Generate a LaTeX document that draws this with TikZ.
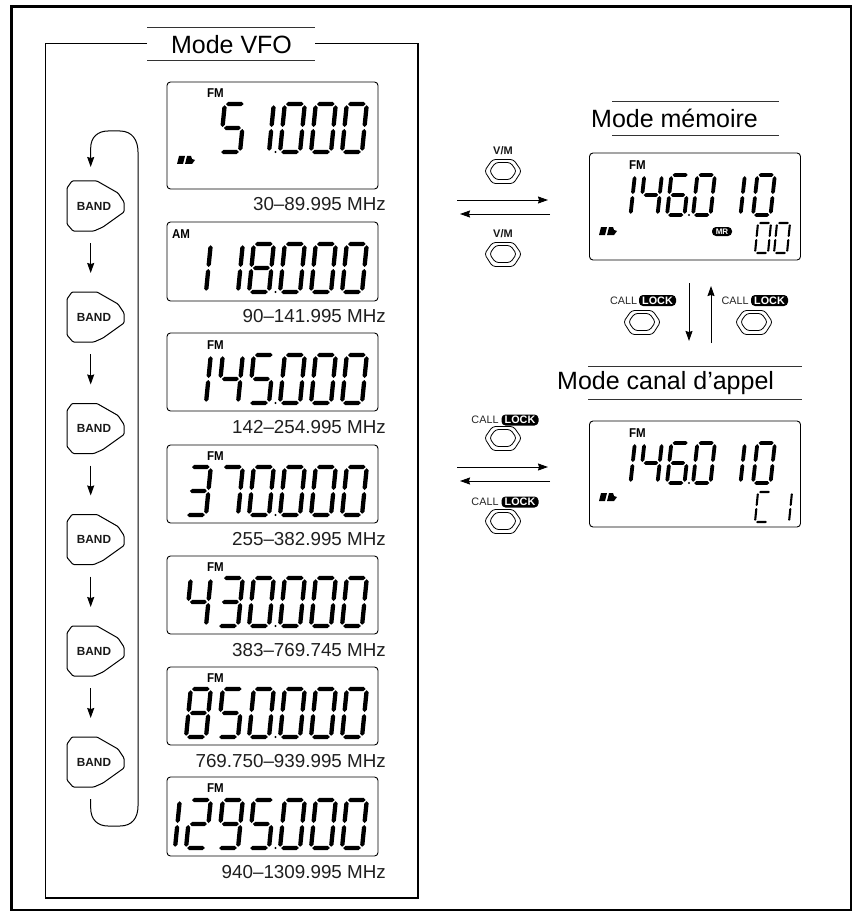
\documentclass[tikz,border=0pt]{standalone}
\usepackage{fontspec}
\setmainfont{Liberation Sans}
\usetikzlibrary{arrows.meta}
\tikzset{
  x=1pt,y=-1pt,
  lcd/.style={draw=black,line width=0.9pt,rounded corners=3.5pt,fill=white,inner sep=0pt,minimum width=211pt},
  freq/.style={anchor=base east,inner sep=0pt,font=\fontsize{18.8}{20}\selectfont,text=black!88},
  title/.style={inner sep=0pt,font=\fontsize{25}{27}\selectfont,text=black},
  mode/.style={inner sep=0pt,xscale=0.9,font=\bfseries\fontsize{12.8}{13}\selectfont},
  bandtxt/.style={inner sep=0pt,font=\bfseries\fontsize{11.8}{12}\selectfont,text=black!90},
  vmtxt/.style={inner sep=0pt,font=\bfseries\fontsize{11}{12}\selectfont,text=black!90},
  calltxt/.style={inner sep=0pt,font=\fontsize{10.8}{12}\selectfont,text=black!85},
  pill/.style={inner sep=0pt,fill=black,text=white,rounded corners=4pt,minimum width=#1,minimum height=11pt,font=\bfseries\fontsize{10.8}{12}\selectfont},
  pill/.default=37pt,
  rulel/.style={line width=1pt,draw=black!80},
  arr/.style={line width=1pt,-{Stealth[length=10pt,width=7pt,inset=1pt]}},
}
% seven-segment digit machinery
\def\setbig{\def\DW{20}\def\DH{48}\def\DT{2.15}\def\DS{0.1}}
\def\setmid{\def\DW{17.5}\def\DH{40}\def\DT{1.9}\def\DS{0.11}}
\def\setsub{\def\DW{13}\def\DH{30}\def\DT{1.05}\def\DS{0.1}}
\newcommand\hsg[3]{\fill ({#1},{#3}) -- ({#1+\DT},{#3-\DT}) -- ({#2-\DT},{#3-\DT}) -- ({#2},{#3}) -- ({#2-\DT},{#3+\DT}) -- ({#1+\DT},{#3+\DT}) -- cycle;}
\newcommand\vsg[3]{\fill ({#1},{#2}) -- ({#1+\DT},{#2+\DT}) -- ({#1+\DT},{#3-\DT}) -- ({#1},{#3}) -- ({#1-\DT},{#3-\DT}) -- ({#1-\DT},{#2+\DT}) -- cycle;}
\expandafter\def\csname sega\endcsname{\hsg{1.2}{\DW-1.2}{-\DH}}
\expandafter\def\csname segd\endcsname{\hsg{1.2}{\DW-1.2}{0}}
\expandafter\def\csname segg\endcsname{\hsg{1.5}{\DW-1.5}{-\DH/2}}
\expandafter\def\csname segb\endcsname{\vsg{\DW}{-\DH+1.2}{-\DH/2-1}}
\expandafter\def\csname segc\endcsname{\vsg{\DW}{-\DH/2+1}{-1.2}}
\expandafter\def\csname sege\endcsname{\vsg{0}{-\DH/2+1}{-1.2}}
\expandafter\def\csname segf\endcsname{\vsg{0}{-\DH+1.2}{-\DH/2-1}}
\expandafter\def\csname dig0\endcsname{a,b,c,d,e,f}
\expandafter\def\csname dig1\endcsname{b,c}
\expandafter\def\csname dig2\endcsname{a,b,g,e,d}
\expandafter\def\csname dig3\endcsname{a,b,g,c,d}
\expandafter\def\csname dig4\endcsname{f,g,b,c}
\expandafter\def\csname dig5\endcsname{a,f,g,c,d}
\expandafter\def\csname dig6\endcsname{a,f,g,e,c,d}
\expandafter\def\csname dig7\endcsname{a,b,c}
\expandafter\def\csname dig8\endcsname{a,b,c,d,e,f,g}
\expandafter\def\csname dig9\endcsname{a,b,f,g,c,d}
\expandafter\def\csname digC\endcsname{a,f,e,d}
\newcommand\dg[3]{\begin{scope}[shift={(#1,#2)},xslant=\DS]%
  \expandafter\let\expandafter\curlist\csname dig#3\endcsname
  \foreach \s in \curlist {\csname seg\s\endcsname}%
\end{scope}}
\newcommand\row[2]{\foreach \p/\c in {#2} {\dg{\p}{#1}{\c}}}
\newcommand\bigrow[2]{\setbig\row{#1}{#2,280/0,311/0,342/0}\fill (275.5,#1) circle (1.2);}
\newcommand\batt[2]{\fill (#1,#2+8) -- (#1+2,#2) -- (#1+8,#2) -- (#1+6,#2+8) -- cycle;
  \fill (#1+8,#2+8) -- (#1+10,#2) -- (#1+14,#2) -- (#1+15,#2+3) -- (#1+18,#2+4) -- (#1+15,#2+8) -- cycle;}
\newcommand\btn[3]{\coordinate (#1) at (#2,#3);
  \draw[line width=0.8pt,rounded corners=3pt] (#1) ++(-18.5,0) -- ++(8,-11.5) -- ++(21,0) -- ++(8,11.5) -- ++(-8,12.5) -- ++(-21,0) -- cycle;
  \draw[line width=0.8pt,rounded corners=3pt] (#1) ++(-13.5,0) -- ++(6,-8.5) -- ++(15,0) -- ++(6,8.5) -- ++(-6,8.5) -- ++(-15,0) -- cycle;}
\newcommand\band[2]{%
  \coordinate (#1top) at (90.7,#2);
  \coordinate (#1bot) at (90.7,#2+50);
  \draw[line width=1pt,rounded corners=1pt] (72,#2) -- (97,#2) -- (118,#2+12) -- (124,#2+21) -- (124,#2+31) -- (103,#2+46) -- (94,#2+50) -- (73,#2+50) -- (67,#2+43) -- (67,#2+7) -- cycle;
  \node[bandtxt] (#1) at (94,#2+25) {BAND};}
\newcommand\calllock[4]{% name, CALL x, LOCK x, y
  \node[calltxt] (#1c) at (#2,#4) {CALL};
  \node[pill] (#1l) at (#3,#4) {LOCK};}
\begin{document}
\begin{tikzpicture}
\useasboundingbox (0,0) rectangle (857,912);
\fill[white] (0,0) rectangle (857,912);
% frames
\draw[line width=2.4pt] (11.5,6.5) rectangle (851,910);
\coordinate (fa) at (147,43.5);\coordinate (fb) at (45.5,43.5);\coordinate (fc) at (45.5,898);\coordinate (fd) at (418,898);\coordinate (fe) at (418,43.5);\coordinate (ff) at (315,43.5);
\draw[line width=1.4pt] (fa) -- (fb) -- (fc) -- (fd) -- (fe) -- (ff);
% titles
\node[title] (tvfo) at (231.5,45) {Mode VFO};
\draw[rulel] (147,28) -- (315,28);
\draw[rulel] (147,61) -- (315,61);
\node[title,anchor=west] (tmem) at (591,118) {Mode mémoire};
\draw[rulel] (612,102) -- (779,102);
\draw[rulel] (612,136) -- (779,136);
\node[title,anchor=west] (tcall) at (557,383) {Mode canal d’appel};
\draw[rulel] (588,366) -- (802,366);
\draw[rulel] (588,399) -- (802,399);
% VFO displays
\node[lcd,minimum height=107pt] (d1) at (272.5,135.5) {};
\node[lcd,minimum height=79pt] (d2) at (272.5,261.5) {};
\node[lcd,minimum height=78pt] (d3) at (272.5,372) {};
\node[lcd,minimum height=78pt] (d4) at (272.5,484) {};
\node[lcd,minimum height=78pt] (d5) at (272.5,595) {};
\node[lcd,minimum height=78pt] (d6) at (272.5,706) {};
\node[lcd,minimum height=79pt] (d7) at (272.5,816.5) {};
\node[mode] (m1) at (215.5,93) {FM};
\node[mode] (m2) at (181,234) {AM};
\node[mode] (m3) at (215.5,345) {FM};
\node[mode] (m4) at (215.5,456) {FM};
\node[mode] (m5) at (215.5,567) {FM};
\node[mode] (m6) at (215.5,678) {FM};
\node[mode] (m7) at (215.5,788) {FM};
\bigrow{152}{220/5,249/1}
\bigrow{292}{186/1,218/1,249/8}
\bigrow{403}{186/1,218/4,249/5}
\bigrow{515}{186/3,218/7,249/0}
\bigrow{626}{186/4,218/3,249/0}
\bigrow{737}{186/8,218/5,249/0}
\bigrow{848}{155/1,186/2,218/9,249/5}
\batt{177}{156}
\node[freq] (f1) at (386,210.5) {30–89.995 MHz};
\node[freq] (f2) at (386,322) {90–141.995 MHz};
\node[freq] (f3) at (386,433.5) {142–254.995 MHz};
\node[freq] (f4) at (386,545.5) {255–382.995 MHz};
\node[freq] (f5) at (386,656) {383–769.745 MHz};
\node[freq] (f6) at (386,767.5) {769.750–939.995 MHz};
\node[freq] (f7) at (386,878.5) {940–1309.995 MHz};
% BAND buttons and their arrows
\band{b1}{181}
\band{b2}{292}
\band{b3}{403.5}
\band{b4}{514.5}
\band{b5}{626}
\band{b6}{737}
\foreach \a/\b in {b1/b2,b2/b3,b3/b4,b4/b5,b5/b6}
  \draw[arr,shorten <=12pt,shorten >=19pt] (\a bot) -- (\b top);
\draw[arr,shorten >=14pt] (b6bot) ++(0,12) -- (90.7,808) .. controls (90.7,820) and (98,826) .. (108,826) -- (120,826) .. controls (132,826) and (138,818) .. (138,806) -- (138,152) .. controls (138,140) and (132,131) .. (120,131) -- (108,131) .. controls (98,131) and (90.7,137) .. (90.7,148) -- (b1top);
% memory display
\node[lcd,minimum height=107pt] (dm) at (695,206.5) {};
\node[mode] (mm) at (637.5,165) {FM};
\setmid\row{215}{613/1,640/4,667/6,693/0,723/1,753/0}
\fill (689,215) circle (1.1);
\setsub\row{253}{755/0,774/0}
\batt{599}{227}
\node[pill=20pt,minimum height=9pt,font=\bfseries\fontsize{8}{9}\selectfont] (mr) at (722,231.5) {MR};
% call display
\node[lcd,minimum height=106pt] (dc) at (695,474) {};
\node[mode] (mc) at (637.5,433) {FM};
\setmid\row{483}{613/1,640/4,667/6,693/0,723/1,753/0}
\fill (689,483) circle (1.1);
\setsub\row{522}{755/C,776/1}
\batt{599}{493}
% V/M switch between VFO and memory
\node[vmtxt] (vt1) at (503,151) {V/M};
\btn{vb1}{503}{171}
\coordinate (a1s) at (457,200);\coordinate (a1e) at (548,200);
\coordinate (a2s) at (550,214);\coordinate (a2e) at (460,214);
\draw[arr] (a1s) -- (a1e);
\draw[arr] (a2s) -- (a2e);
\node[vmtxt] (vt2) at (503,234) {V/M};
\btn{vb2}{503}{254}
% CALL between memory and call
\calllock{k1}{623.5}{657.5}{300.5}
\btn{kb1}{642}{322}
\calllock{k2}{735}{769.5}{300.5}
\btn{kb2}{754}{322}
\coordinate (a3s) at (689,283);\coordinate (a3e) at (689,341);
\coordinate (a4s) at (711,343);\coordinate (a4e) at (711,286);
\draw[arr] (a3s) -- (a3e);
\draw[arr] (a4s) -- (a4e);
% CALL between VFO and call
\calllock{k3}{485}{520}{420}
\btn{kb3}{503}{438}
\coordinate (a5s) at (457,467);\coordinate (a5e) at (548,467);
\coordinate (a6s) at (550,481);\coordinate (a6e) at (460,481);
\draw[arr] (a5s) -- (a5e);
\draw[arr] (a6s) -- (a6e);
\calllock{k4}{485}{520}{502}
\btn{kb4}{503}{521}
\end{tikzpicture}
\end{document}
